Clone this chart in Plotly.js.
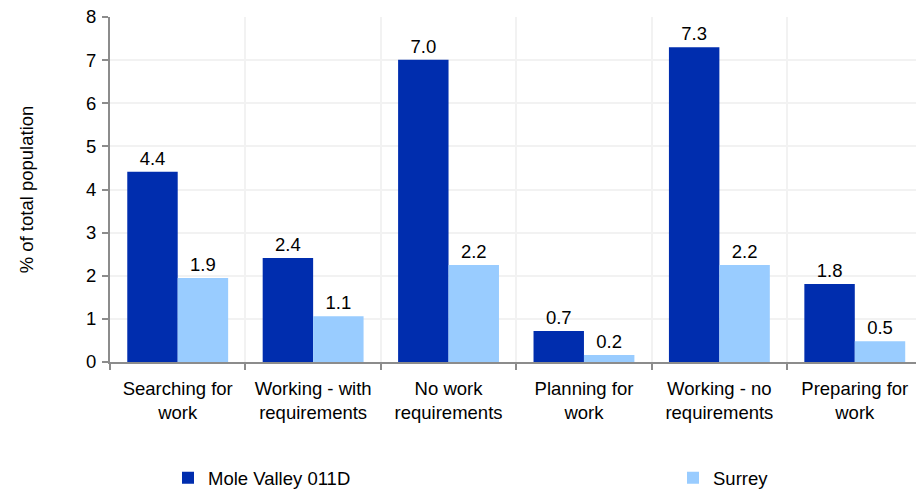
<!DOCTYPE html>
<html>
<head>
<meta charset="utf-8">
<script src="https://cdn.plot.ly/plotly-3.0.1.min.js"></script>
<style>
html,body{margin:0;padding:0;overflow:hidden;background:#fff;}
#chart{width:916px;height:489px;}
</style>
</head>
<body>
<div id="chart"></div>
<script>
const categories = ['Searching for<br>work', 'Working - with<br>requirements', 'No work<br>requirements', 'Planning for<br>work', 'Working - no<br>requirements', 'Preparing for<br>work'];
const moleValues = [4.41, 2.41, 7.01, 0.72, 7.30, 1.81];
const moleLabels = ['4.4', '2.4', '7.0', '0.7', '7.3', '1.8'];
const surreyValues = [1.95, 1.06, 2.25, 0.16, 2.25, 0.48];
const surreyLabels = ['1.9', '1.1', '2.2', '0.2', '2.2', '0.5'];
const yTicks = [0, 1, 2, 3, 4, 5, 6, 7, 8];

const font = 'Liberation Sans, Arial, sans-serif';
const fs = 18.5;

const traces = [
  {
    type: 'bar', name: 'Mole Valley 011D', x: categories, y: moleValues,
    text: moleLabels, texttemplate: '%{text}', textposition: 'outside', cliponaxis: false,
    textfont: {family: font, size: fs, color: '#000'},
    marker: {color: '#002DAE'}, hoverinfo: 'skip', legend: 'legend'
  },
  {
    type: 'bar', name: 'Surrey', x: categories, y: surreyValues,
    text: surreyLabels, texttemplate: '%{text}', textposition: 'outside', cliponaxis: false,
    textfont: {family: font, size: fs, color: '#000'},
    marker: {color: '#99CCFF'}, hoverinfo: 'skip', legend: 'legend2'
  }
];

const legendBase = {
  orientation: 'h', xanchor: 'left', yref: 'container', y: 0.022, yanchor: 'middle',
  xref: 'container', font: {family: font, size: 18.5, color: '#000'}, bgcolor: 'rgba(0,0,0,0)'
};

const layout = {
  width: 916, height: 489,
  margin: {l: 110, r: 0, t: 17, b: 127, pad: 0},
  paper_bgcolor: '#fff', plot_bgcolor: '#fff',
  font: {family: font, size: fs, color: '#000'},
  barmode: 'group', bargap: 0.255, bargroupgap: 0,
  showlegend: true,
  legend: Object.assign({}, legendBase, {x: 168 / 916}),
  legend2: Object.assign({}, legendBase, {x: 673 / 916}),
  xaxis: {
    type: 'category', range: [-0.5, 5.452], tickson: 'boundaries',
    showline: true, linecolor: '#8c8c8c', linewidth: 2,
    ticks: 'outside', ticklen: 6, tickcolor: '#8c8c8c', tickwidth: 2,
    showgrid: true, gridcolor: '#f2f2f2', gridwidth: 2,
    ticklabelstandoff: 9,
    tickfont: {family: font, size: fs, color: '#000'}, fixedrange: true
  },
  yaxis: {
    range: [0, 8], tickvals: yTicks, ticktext: yTicks.map(String),
    showline: true, linecolor: '#8c8c8c', linewidth: 2,
    ticks: 'outside', ticklen: 6, tickcolor: '#8c8c8c', tickwidth: 2,
    showgrid: true, gridcolor: '#f2f2f2', gridwidth: 2, zeroline: false,
    ticklabelstandoff: 2,
    tickfont: {family: font, size: fs, color: '#000'},
    title: {text: '% of total population', font: {family: font, size: fs, color: '#000'}, standoff: 48},
    fixedrange: true
  }
};

Plotly.newPlot('chart', traces, layout, {displayModeBar: false, staticPlot: true});
</script>
</body>
</html>
